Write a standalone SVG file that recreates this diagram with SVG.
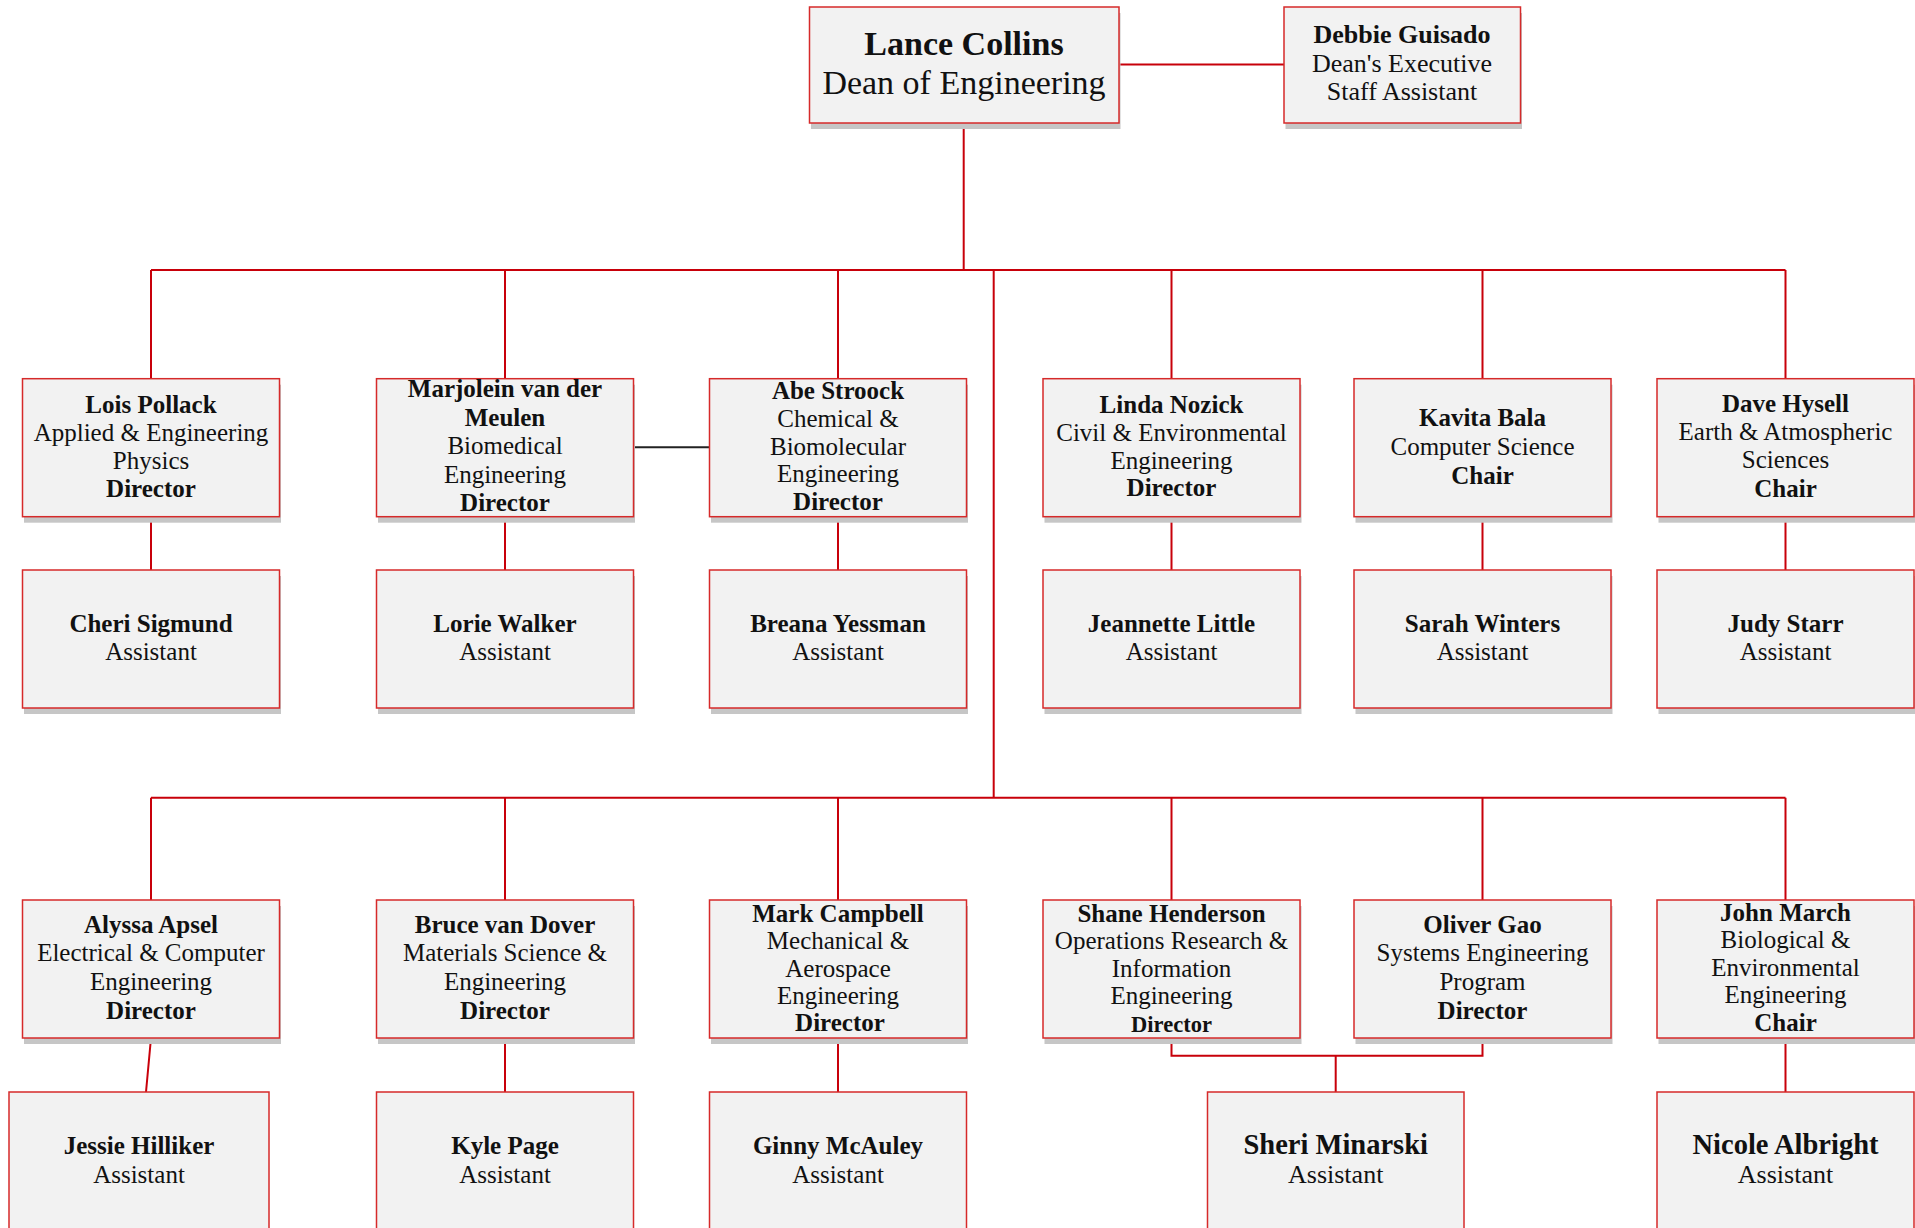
<svg xmlns="http://www.w3.org/2000/svg" width="1915" height="1228" viewBox="0 0 1915 1228">
<style>
.box{fill:#f2f2f2;stroke:#d62a2a;stroke-width:1.5}
.sh{fill:#c6c6c6}
.c{fill:none;stroke:#c8000a;stroke-width:2}
.k{fill:none;stroke:#222;stroke-width:2}
text{font-family:"Liberation Serif","Times New Roman",serif;font-size:25px;fill:#111;text-anchor:middle}
.b{font-weight:bold}
.dn{font-size:34px}
.db{font-size:26px}
.big{font-size:28.5px}
.a26{font-size:26px}
.sm{font-size:22.5px}
</style>
<rect width="1915" height="1228" fill="#fff"/>
<g id="connectors">
<line class="c" x1="1118.9" y1="64.5" x2="1284" y2="64.5"/>
<line class="c" x1="963.7" y1="122.7" x2="963.7" y2="270"/>
<line class="c" x1="151" y1="270" x2="1785.5" y2="270"/>
<path class="c" d="M151 270V378.7M505 270V378.7M838 270V378.7M1171.5 270V378.7M1482.5 270V378.7M1785.5 270V378.7"/>
<line class="c" x1="993.7" y1="270" x2="993.7" y2="797.7"/>
<line class="c" x1="151" y1="797.7" x2="1785.5" y2="797.7"/>
<path class="c" d="M151 797.7V900M505 797.7V900M838 797.7V900M1171.5 797.7V900M1482.5 797.7V900M1785.5 797.7V900"/>
<path class="c" d="M151 516.7V570M505 516.7V570M838 516.7V570M1171.5 516.7V570M1482.5 516.7V570M1785.5 516.7V570"/>
<path class="c" d="M151 1038L146 1092M505 1038V1092M838 1038V1092M1785.5 1038V1092"/>
<path class="c" d="M1171.5 1038V1055.7H1482.5V1038M1335.7 1055.7V1092"/>
<line class="k" x1="633.5" y1="447.3" x2="709.5" y2="447.3"/>
</g>
<g id="dean">
<rect class="sh" x="811" y="13" width="309.5" height="116"/>
<rect class="box" x="809.5" y="7" width="309.5" height="116"/>
<text x="964" y="55" class="dn b">Lance Collins</text>
<text x="964" y="94" class="dn">Dean of Engineering</text>
</g>
<g id="debbie">
<rect class="sh" x="1285.5" y="13" width="236.5" height="116"/>
<rect class="box" x="1284" y="7" width="236.5" height="116"/>
<text x="1402" y="42.7" class="db b">Debbie Guisado</text>
<text x="1402" y="71.5" class="db">Dean's Executive</text>
<text x="1402" y="100" class="db">Staff Assistant</text>
</g>
<g id="lois">
<rect class="sh" x="24" y="384.7" width="257" height="138"/>
<rect class="box" x="22.5" y="378.7" width="257" height="138"/>
<text x="151" y="413.2" class="b">Lois Pollack</text>
<text x="151" y="441.2">Applied &amp; Engineering</text>
<text x="151" y="469">Physics</text>
<text x="151" y="497" class="b">Director</text>
</g>
<g id="marjolein">
<rect class="sh" x="378" y="384.7" width="257" height="138"/>
<rect class="box" x="376.5" y="378.7" width="257" height="138"/>
<text x="505" y="397" class="b">Marjolein van der</text>
<text x="505" y="425.5" class="b">Meulen</text>
<text x="505" y="454">Biomedical</text>
<text x="505" y="482.5">Engineering</text>
<text x="505" y="511" class="b">Director</text>
</g>
<g id="abe">
<rect class="sh" x="711" y="384.7" width="257" height="138"/>
<rect class="box" x="709.5" y="378.7" width="257" height="138"/>
<text x="838" y="399" class="b">Abe Stroock</text>
<text x="838" y="426.8">Chemical &amp;</text>
<text x="838" y="454.6">Biomolecular</text>
<text x="838" y="482.4">Engineering</text>
<text x="838" y="510.2" class="b">Director</text>
</g>
<g id="linda">
<rect class="sh" x="1044.5" y="384.7" width="257" height="138"/>
<rect class="box" x="1043" y="378.7" width="257" height="138"/>
<text x="1171.5" y="413" class="b">Linda Nozick</text>
<text x="1171.5" y="441">Civil &amp; Environmental</text>
<text x="1171.5" y="468.5">Engineering</text>
<text x="1171.5" y="496" class="b">Director</text>
</g>
<g id="kavita">
<rect class="sh" x="1355.5" y="384.7" width="257" height="138"/>
<rect class="box" x="1354" y="378.7" width="257" height="138"/>
<text x="1482.5" y="426" class="b">Kavita Bala</text>
<text x="1482.5" y="455">Computer Science</text>
<text x="1482.5" y="484" class="b">Chair</text>
</g>
<g id="dave">
<rect class="sh" x="1658.5" y="384.7" width="257" height="138"/>
<rect class="box" x="1657" y="378.7" width="257" height="138"/>
<text x="1785.5" y="411.7" class="b">Dave Hysell</text>
<text x="1785.5" y="440">Earth &amp; Atmospheric</text>
<text x="1785.5" y="468.3">Sciences</text>
<text x="1785.5" y="496.7" class="b">Chair</text>
</g>
<g id="cheri">
<rect class="sh" x="24" y="576" width="257" height="138"/>
<rect class="box" x="22.5" y="570" width="257" height="138"/>
<text x="151" y="631.7" class="b">Cheri Sigmund</text>
<text x="151" y="660">Assistant</text>
</g>
<g id="lorie">
<rect class="sh" x="378" y="576" width="257" height="138"/>
<rect class="box" x="376.5" y="570" width="257" height="138"/>
<text x="505" y="631.7" class="b">Lorie Walker</text>
<text x="505" y="660">Assistant</text>
</g>
<g id="breana">
<rect class="sh" x="711" y="576" width="257" height="138"/>
<rect class="box" x="709.5" y="570" width="257" height="138"/>
<text x="838" y="631.7" class="b">Breana Yessman</text>
<text x="838" y="660">Assistant</text>
</g>
<g id="jeannette">
<rect class="sh" x="1044.5" y="576" width="257" height="138"/>
<rect class="box" x="1043" y="570" width="257" height="138"/>
<text x="1171.5" y="631.7" class="b">Jeannette Little</text>
<text x="1171.5" y="660">Assistant</text>
</g>
<g id="sarah">
<rect class="sh" x="1355.5" y="576" width="257" height="138"/>
<rect class="box" x="1354" y="570" width="257" height="138"/>
<text x="1482.5" y="631.7" class="b">Sarah Winters</text>
<text x="1482.5" y="660">Assistant</text>
</g>
<g id="judy">
<rect class="sh" x="1658.5" y="576" width="257" height="138"/>
<rect class="box" x="1657" y="570" width="257" height="138"/>
<text x="1785.5" y="631.7" class="b">Judy Starr</text>
<text x="1785.5" y="660">Assistant</text>
</g>
<g id="alyssa">
<rect class="sh" x="24" y="906" width="257" height="138"/>
<rect class="box" x="22.5" y="900" width="257" height="138"/>
<text x="151" y="932.5" class="b">Alyssa Apsel</text>
<text x="151" y="961.2">Electrical &amp; Computer</text>
<text x="151" y="990">Engineering</text>
<text x="151" y="1018.7" class="b">Director</text>
</g>
<g id="bruce">
<rect class="sh" x="378" y="906" width="257" height="138"/>
<rect class="box" x="376.5" y="900" width="257" height="138"/>
<text x="505" y="932.5" class="b">Bruce van Dover</text>
<text x="505" y="961.2">Materials Science &amp;</text>
<text x="505" y="990">Engineering</text>
<text x="505" y="1018.7" class="b">Director</text>
</g>
<g id="mark">
<rect class="sh" x="711" y="906" width="257" height="138"/>
<rect class="box" x="709.5" y="900" width="257" height="138"/>
<text x="838" y="921.7" class="b">Mark Campbell</text>
<text x="838" y="949.2">Mechanical &amp;</text>
<text x="838" y="976.5">Aerospace</text>
<text x="838" y="1003.5">Engineering</text>
<text x="840" y="1030.7" class="b">Director</text>
</g>
<g id="shane">
<rect class="sh" x="1044.5" y="906" width="257" height="138"/>
<rect class="box" x="1043" y="900" width="257" height="138"/>
<text x="1171.5" y="921.7" class="b">Shane Henderson</text>
<text x="1171.5" y="949.3">Operations Research &amp;</text>
<text x="1171.5" y="976.7">Information</text>
<text x="1171.5" y="1004">Engineering</text>
<text x="1171.5" y="1031.5" class="b sm">Director</text>
</g>
<g id="oliver">
<rect class="sh" x="1355.5" y="906" width="257" height="138"/>
<rect class="box" x="1354" y="900" width="257" height="138"/>
<text x="1482.5" y="932.7" class="b">Oliver Gao</text>
<text x="1482.5" y="961.3">Systems Engineering</text>
<text x="1482.5" y="990">Program</text>
<text x="1482.5" y="1019" class="b">Director</text>
</g>
<g id="john">
<rect class="sh" x="1658.5" y="906" width="257" height="138"/>
<rect class="box" x="1657" y="900" width="257" height="138"/>
<text x="1785.5" y="920.7" class="b">John March</text>
<text x="1785.5" y="948.3">Biological &amp;</text>
<text x="1785.5" y="976">Environmental</text>
<text x="1785.5" y="1003">Engineering</text>
<text x="1785.5" y="1030.7" class="b">Chair</text>
</g>
<g id="jessie">
<rect class="box" x="9" y="1092" width="260" height="138"/>
<text x="139" y="1154" class="b">Jessie Hilliker</text>
<text x="139" y="1182.7">Assistant</text>
</g>
<g id="kyle">
<rect class="box" x="376.5" y="1092" width="257" height="138"/>
<text x="505" y="1154" class="b">Kyle Page</text>
<text x="505" y="1182.7">Assistant</text>
</g>
<g id="ginny">
<rect class="box" x="709.5" y="1092" width="257" height="138"/>
<text x="838" y="1154" class="b">Ginny McAuley</text>
<text x="838" y="1182.7">Assistant</text>
</g>
<g id="sheri">
<rect class="box" x="1207.5" y="1092" width="256.5" height="138"/>
<text x="1335.7" y="1154" class="b big">Sheri Minarski</text>
<text x="1335.7" y="1183" class="a26">Assistant</text>
</g>
<g id="nicole">
<rect class="box" x="1657" y="1092" width="257" height="138"/>
<text x="1785.5" y="1154" class="b big">Nicole Albright</text>
<text x="1785.5" y="1183" class="a26">Assistant</text>
</g>
</svg>
